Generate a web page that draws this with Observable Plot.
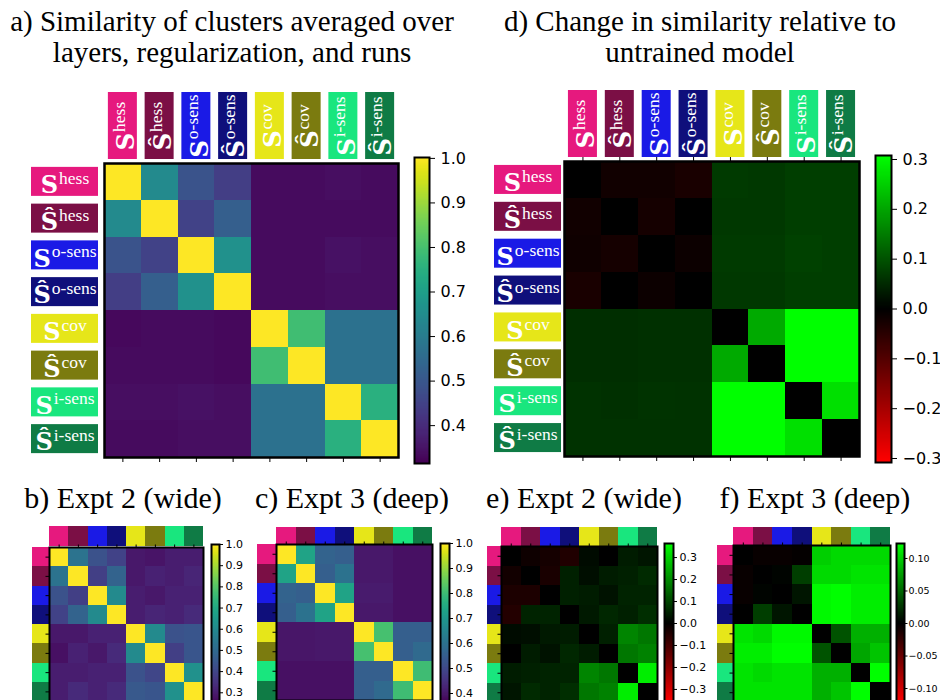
<!DOCTYPE html>
<html>
<head>
<meta charset="utf-8">
<script src="https://cdn.jsdelivr.net/npm/d3@7"></script>
<script src="https://cdn.jsdelivr.net/npm/@observablehq/plot@0.6"></script>
<style>
  html, body { margin: 0; padding: 0; background: #fff; }
  #fig { position: relative; width: 940px; height: 700px; overflow: hidden; background: #fff; }
  .title { position: absolute; font-family: "Liberation Serif", serif; font-size: 29px; line-height: 31px; text-align: center; color: #000; white-space: nowrap; }
  .title.small { font-size: 30px; }
</style>
</head>
<body>
<div id="fig"></div>
<script>
// ---------------- data ----------------
const categories = ["S_hess", "Ŝ_hess", "S_o-sens", "Ŝ_o-sens", "S_cov", "Ŝ_cov", "S_i-sens", "Ŝ_i-sens"];
const labelBase = ["S", "Ŝ", "S", "Ŝ", "S", "Ŝ", "S", "Ŝ"];
const labelSup = ["hess", "hess", "o-sens", "o-sens", "cov", "cov", "i-sens", "i-sens"];
const labelColors = ["#e6197e", "#7b0f45", "#1a1ae6", "#0f0f7b", "#e6e619", "#7b7b0f", "#19e67e", "#0f7b45"];

// a) similarity averaged over layers, regularization, runs
const simA = [
  [1.00, 0.64, 0.49, 0.44, 0.335, 0.335, 0.34, 0.335],
  [0.64, 1.00, 0.45, 0.52, 0.335, 0.335, 0.335, 0.335],
  [0.49, 0.45, 1.00, 0.66, 0.335, 0.335, 0.345, 0.34],
  [0.44, 0.52, 0.66, 1.00, 0.335, 0.335, 0.34, 0.34],
  [0.33, 0.335, 0.335, 0.33, 1.00, 0.79, 0.57, 0.57],
  [0.335, 0.335, 0.335, 0.33, 0.79, 1.00, 0.57, 0.57],
  [0.34, 0.34, 0.345, 0.34, 0.57, 0.57, 1.00, 0.75],
  [0.335, 0.335, 0.34, 0.34, 0.57, 0.57, 0.75, 1.00]
];
// d) change relative to untrained model
const diffD = [
  [0.000, -0.020, -0.020, -0.030, 0.070, 0.068, 0.075, 0.075],
  [-0.020, 0.000, -0.025, 0.000, 0.068, 0.068, 0.075, 0.075],
  [-0.018, -0.025, 0.000, -0.015, 0.070, 0.070, 0.078, 0.075],
  [-0.030, 0.000, -0.015, 0.000, 0.068, 0.068, 0.075, 0.075],
  [0.055, 0.055, 0.058, 0.058, 0.000, 0.205, 0.308, 0.308],
  [0.055, 0.055, 0.058, 0.058, 0.205, 0.000, 0.308, 0.308],
  [0.060, 0.058, 0.062, 0.060, 0.308, 0.308, 0.000, 0.270],
  [0.060, 0.060, 0.060, 0.060, 0.308, 0.308, 0.270, 0.000]
];
// b) Expt 2 (wide)
const simB = [
  [1.00, 0.53, 0.43, 0.39, 0.29, 0.28, 0.30, 0.30],
  [0.53, 1.00, 0.38, 0.48, 0.29, 0.31, 0.30, 0.32],
  [0.43, 0.38, 1.00, 0.60, 0.30, 0.29, 0.31, 0.31],
  [0.39, 0.48, 0.60, 1.00, 0.30, 0.32, 0.31, 0.33],
  [0.29, 0.29, 0.31, 0.31, 1.00, 0.60, 0.43, 0.44],
  [0.27, 0.31, 0.29, 0.33, 0.60, 1.00, 0.38, 0.44],
  [0.30, 0.30, 0.31, 0.31, 0.43, 0.40, 1.00, 0.62],
  [0.30, 0.33, 0.31, 0.33, 0.45, 0.44, 0.62, 1.00]
];
// c) Expt 3 (deep)
const simC = [
  [1.00, 0.73, 0.56, 0.55, 0.40, 0.40, 0.385, 0.385],
  [0.73, 1.00, 0.55, 0.60, 0.40, 0.40, 0.385, 0.385],
  [0.56, 0.55, 1.00, 0.73, 0.405, 0.405, 0.385, 0.385],
  [0.55, 0.60, 0.73, 1.00, 0.40, 0.40, 0.385, 0.385],
  [0.395, 0.395, 0.40, 0.40, 1.00, 0.81, 0.55, 0.55],
  [0.395, 0.395, 0.40, 0.40, 0.81, 1.00, 0.55, 0.58],
  [0.385, 0.385, 0.385, 0.385, 0.55, 0.55, 1.00, 0.80],
  [0.385, 0.385, 0.385, 0.385, 0.55, 0.58, 0.80, 1.00]
];
// e) Expt 2 (wide) change
const diffE = [
  [0.000, -0.020, -0.030, -0.045, 0.015, 0.000, 0.040, 0.030],
  [-0.025, 0.000, -0.035, 0.045, 0.020, 0.040, 0.045, 0.060],
  [-0.040, -0.040, 0.000, 0.045, 0.040, 0.025, 0.050, 0.050],
  [-0.050, 0.050, 0.050, 0.000, 0.035, 0.055, 0.045, 0.065],
  [0.015, 0.020, 0.035, 0.040, 0.000, 0.045, 0.190, 0.170],
  [0.000, 0.040, 0.025, 0.055, 0.040, 0.000, 0.170, 0.185],
  [0.040, 0.045, 0.050, 0.050, 0.190, 0.170, 0.000, 0.340],
  [0.030, 0.060, 0.050, 0.065, 0.170, 0.185, 0.340, 0.000]
];
// f) Expt 3 (deep) change
const diffF = [
  [0.000, -0.004, -0.004, -0.002, 0.100, 0.105, 0.105, 0.105],
  [-0.004, 0.000, 0.002, 0.030, 0.105, 0.105, 0.110, 0.110],
  [-0.004, 0.002, 0.000, 0.010, 0.120, 0.123, 0.115, 0.115],
  [0.000, 0.030, 0.010, 0.000, 0.120, 0.123, 0.115, 0.115],
  [0.110, 0.105, 0.120, 0.120, 0.000, 0.040, 0.085, 0.085],
  [0.115, 0.115, 0.123, 0.123, 0.040, 0.000, 0.080, 0.095],
  [0.110, 0.105, 0.110, 0.110, 0.085, 0.085, 0.000, 0.123],
  [0.110, 0.110, 0.110, 0.110, 0.085, 0.095, 0.123, 0.000]
];

const ticksA = [0.4, 0.5, 0.6, 0.7, 0.8, 0.9, 1.0];
const ticksD = [-0.3, -0.2, -0.1, 0.0, 0.1, 0.2, 0.3];
const ticksB = [0.3, 0.4, 0.5, 0.6, 0.7, 0.8, 0.9, 1.0];
const ticksC = [0.4, 0.5, 0.6, 0.7, 0.8, 0.9, 1.0];
const ticksE = [-0.3, -0.2, -0.1, 0.0, 0.1, 0.2, 0.3];
const ticksF = [-0.10, -0.05, 0.00, 0.05, 0.10];

// ---------------- helpers ----------------
const fig = document.getElementById("fig");
function place(node, left, top) {
  node.style.position = "absolute";
  node.style.left = left + "px";
  node.style.top = top + "px";
  fig.appendChild(node);
  return node;
}
function title(lines, left, top, width, cls = "") {
  const d = document.createElement("div");
  d.className = "title " + cls;
  d.style.left = left + "px";
  d.style.top = top + "px";
  d.style.width = width + "px";
  d.innerHTML = lines.join("<br>");
  fig.appendChild(d);
}
const viridis = (domain) => ({type: "linear", scheme: "viridis", domain, clamp: true});
const redGreen = (m) => ({type: "linear", domain: [-m, 0, m], range: ["#ff0000", "#000000", "#00ff00"], interpolate: "rgb", clamp: true});
const labels = categories.map((cat, i) => ({cat, base: labelBase[i], sup: labelSup[i], color: labelColors[i]}));
const ctx = document.createElement("canvas").getContext("2d");
function textWidth(t, font) { ctx.font = font; return ctx.measureText(t).width; }
const noText = () => "";
const baseFont = {family: "DejaVu Serif", size: 24, weight: "bold"};
const supFont = {family: "Liberation Serif", size: 17.5};

function heatmap(matrix, color, o) {
  const m = 10;
  const data = matrix.flatMap((row, i) => row.map((v, j) => ({row: categories[i], col: categories[j], v})));
  const marks = [Plot.cell(data, {x: "col", y: "row", fill: "v", inset: 0, shapeRendering: "crispEdges"})];
  if (o.tickTop) marks.push(Plot.axisX({anchor: "top", tickSize: o.tickLen, tickFormat: noText, label: null}));
  if (o.tickBottom) marks.push(Plot.axisX({anchor: "bottom", tickSize: o.tickLen, tickFormat: noText, label: null}));
  if (o.tickLeft) marks.push(Plot.axisY({anchor: "left", tickSize: o.tickLen, tickFormat: noText, label: null}));
  marks.push(Plot.frame({stroke: "black", strokeWidth: o.frameW}));
  const svg = Plot.plot({
    width: o.w + 2 * m, height: o.h + 2 * m, margin: m,
    x: {domain: categories, padding: 0, round: false, axis: null, label: null},
    y: {domain: categories, padding: 0, round: false, axis: null, label: null},
    color,
    style: {background: "transparent", overflow: "visible", color: "black"},
    marks
  });
  place(svg, o.x0 - m, o.y0 - m);
}

function colorbar(color, domain, ticks, fmt, o) {
  const n = 300, lo = domain[0], hi = domain[1], step = (hi - lo) / n;
  const ramp = d3.range(n).map(i => lo + step * (i + 0.5));
  const mt = 12, ml = 2, mr = 70;
  const svg = Plot.plot({
    width: o.w + ml + mr, height: o.h + 2 * mt,
    marginLeft: ml, marginRight: mr, marginTop: mt, marginBottom: mt,
    x: {domain: [0, 1], axis: null},
    y: {domain: [lo, hi], axis: null, label: null},
    color,
    style: {background: "transparent", overflow: "visible", color: "black", fontFamily: "DejaVu Sans", fontSize: o.fontSize + "px"},
    marks: [
      Plot.rect(ramp, {x1: 0, x2: 1, y1: d => d - step * 0.6, y2: d => d + step * 0.6, fill: d => d, shapeRendering: "crispEdges"}),
      Plot.axisY({anchor: "right", ticks, tickFormat: d3.format(fmt), tickSize: o.tickLen, tickPadding: o.pad, label: null}),
      Plot.frame({stroke: "black", strokeWidth: o.frameW})
    ]
  });
  place(svg, o.x0 - ml, o.y0 - mt);
}

function measured(boxLen) {
  return labels.map(d => {
    const wb = textWidth(d.base, `${baseFont.weight} ${baseFont.size}px "${baseFont.family}"`);
    const ws = textWidth(d.sup, `${supFont.size}px "${supFont.family}"`);
    const total = wb + 1 + ws;
    return {...d, wb, ws, total, start: (boxLen - total) / 2};
  });
}

function rowLabels(o) {
  const step = o.h / 8, inset = (step - o.boxH) / 2;
  const L = measured(o.boxW);
  const svg = Plot.plot({
    width: o.boxW, height: o.h, margin: 0,
    x: {domain: [0, o.boxW], range: [0, o.boxW], axis: null},
    y: {domain: categories, padding: 0, round: false, axis: null, label: null},
    style: {background: "transparent", overflow: "visible"},
    marks: [
      Plot.cell(L, {y: "cat", fill: "color", insetTop: inset, insetBottom: inset}),
      Plot.text(L, {y: "cat", x: d => d.start, text: "base", textAnchor: "start", fill: "white",
        fontFamily: baseFont.family, fontWeight: baseFont.weight, fontSize: baseFont.size, dy: 3.5}),
      Plot.text(L, {y: "cat", x: d => d.start + d.wb + 1, text: "sup", textAnchor: "start", fill: "white",
        fontFamily: supFont.family, fontSize: supFont.size, dy: -3.5})
    ]
  });
  place(svg, o.x0, o.y0);
}

function colLabels(o) {
  const step = o.w / 8, inset = (step - o.boxW) / 2;
  const L = measured(o.boxH);
  const svg = Plot.plot({
    width: o.w, height: o.boxH, margin: 0,
    x: {domain: categories, padding: 0, round: false, axis: null, label: null},
    y: {domain: [0, o.boxH], range: [0, o.boxH], axis: null},
    style: {background: "transparent", overflow: "visible"},
    marks: [
      Plot.cell(L, {x: "cat", fill: "color", insetLeft: inset, insetRight: inset}),
      Plot.text(L, {x: "cat", y: d => o.boxH - d.start, text: "base", textAnchor: "start", rotate: -90, fill: "white",
        fontFamily: baseFont.family, fontWeight: baseFont.weight, fontSize: baseFont.size, dx: 3.5}),
      Plot.text(L, {x: "cat", y: d => o.boxH - d.start - d.wb - 1, text: "sup", textAnchor: "start", rotate: -90, fill: "white",
        fontFamily: supFont.family, fontSize: supFont.size, dx: -3.5})
    ]
  });
  place(svg, o.x0, o.y0);
}

function colStrip(o) {
  const svg = Plot.plot({
    width: o.w, height: o.h, margin: 0,
    x: {domain: categories, padding: 0, round: false, axis: null, label: null},
    style: {background: "transparent"},
    marks: [Plot.cell(labels, {x: "cat", fill: "color", shapeRendering: "crispEdges"})]
  });
  place(svg, o.x0, o.y0);
}
function rowStrip(o) {
  const svg = Plot.plot({
    width: o.w, height: o.h, margin: 0,
    y: {domain: categories, padding: 0, round: false, axis: null, label: null},
    style: {background: "transparent"},
    marks: [Plot.cell(labels, {y: "cat", fill: "color", shapeRendering: "crispEdges"})]
  });
  place(svg, o.x0, o.y0);
}

// ---------------- titles ----------------
title(["a) Similarity of clusters averaged over", "layers, regularization, and runs"], 0, 6, 464);
title(["d) Change in similarity relative to", "untrained model"], 470, 6, 460);
title(["b) Expt 2 (wide)"], 20, 482, 206, "small");
title(["c) Expt 3 (deep)"], 249, 482, 206, "small");
title(["e) Expt 2 (wide)"], 484, 482, 200, "small");
title(["f) Expt 3 (deep)"], 712, 482, 206, "small");

// ---------------- panel a ----------------
const colorA = viridis([0.315, 1.002]);
colLabels({x0: 104, y0: 92, w: 294, boxW: 29, boxH: 67});
rowLabels({x0: 31, y0: 163, h: 294, boxW: 67, boxH: 29});
heatmap(simA, colorA, {x0: 104, y0: 163, w: 294, h: 294, tickBottom: true, tickLen: 5, frameW: 2.5});
colorbar(colorA, [0.315, 1.002], ticksA, ".1f", {x0: 414, y0: 157, w: 15, h: 306, fontSize: 16, tickLen: 5, pad: 6, frameW: 2});

// ---------------- panel d ----------------
const colorD = redGreen(0.308);
colLabels({x0: 564, y0: 90, w: 295, boxW: 29, boxH: 67});
rowLabels({x0: 494, y0: 161, h: 295, boxW: 67, boxH: 29});
heatmap(diffD, colorD, {x0: 564, y0: 161, w: 295, h: 295, tickTop: true, tickBottom: true, tickLen: 5, frameW: 2.5});
colorbar(colorD, [-0.308, 0.308], ticksD, ".1f", {x0: 875, y0: 155, w: 16, h: 307, fontSize: 16, tickLen: 5, pad: 6, frameW: 2});

// ---------------- panel b ----------------
const colorB = viridis([0.24, 1.0]);
colStrip({x0: 49, y0: 526, w: 154, h: 20});
rowStrip({x0: 32, y0: 547, w: 17, h: 154});
heatmap(simB, colorB, {x0: 49, y0: 547, w: 154, h: 154, tickTop: true, tickLeft: true, tickLen: 3.5, frameW: 2});
colorbar(colorB, [0.24, 1.0], ticksB, ".1f", {x0: 211, y0: 544, w: 8, h: 161, fontSize: 11, tickLen: 3, pad: 3, frameW: 2});

// ---------------- panel c ----------------
const colorC = viridis([0.36, 1.0]);
colStrip({x0: 276, y0: 527, w: 156, h: 18});
rowStrip({x0: 257, y0: 544, w: 19, h: 156});
heatmap(simC, colorC, {x0: 276, y0: 544, w: 156, h: 156, tickTop: true, tickLeft: true, tickLen: 3.5, frameW: 2});
colorbar(colorC, [0.36, 1.0], ticksC, ".1f", {x0: 440, y0: 543, w: 9, h: 160, fontSize: 11, tickLen: 3, pad: 3, frameW: 2});

// ---------------- panel e ----------------
const colorE = redGreen(0.364);
colStrip({x0: 501, y0: 527, w: 156, h: 19});
rowStrip({x0: 487, y0: 546, w: 14, h: 156});
heatmap(diffE, colorE, {x0: 501, y0: 546, w: 156, h: 156, tickTop: true, tickLeft: true, tickLen: 3.5, frameW: 2});
colorbar(colorE, [-0.364, 0.364], ticksE, ".1f", {x0: 664, y0: 543, w: 9, h: 160, fontSize: 11, tickLen: 3, pad: 3, frameW: 2});

// ---------------- panel f ----------------
const colorF = redGreen(0.123);
colStrip({x0: 733, y0: 527, w: 157, h: 18});
rowStrip({x0: 717, y0: 545, w: 16, h: 157});
heatmap(diffF, colorF, {x0: 733, y0: 545, w: 157, h: 157, tickTop: true, tickLeft: true, tickLen: 3.5, frameW: 2});
colorbar(colorF, [-0.123, 0.123], ticksF, ".2f", {x0: 896, y0: 543, w: 8, h: 160, fontSize: 9.5, tickLen: 2.5, pad: 1.5, frameW: 2});
</script>
</body>
</html>
